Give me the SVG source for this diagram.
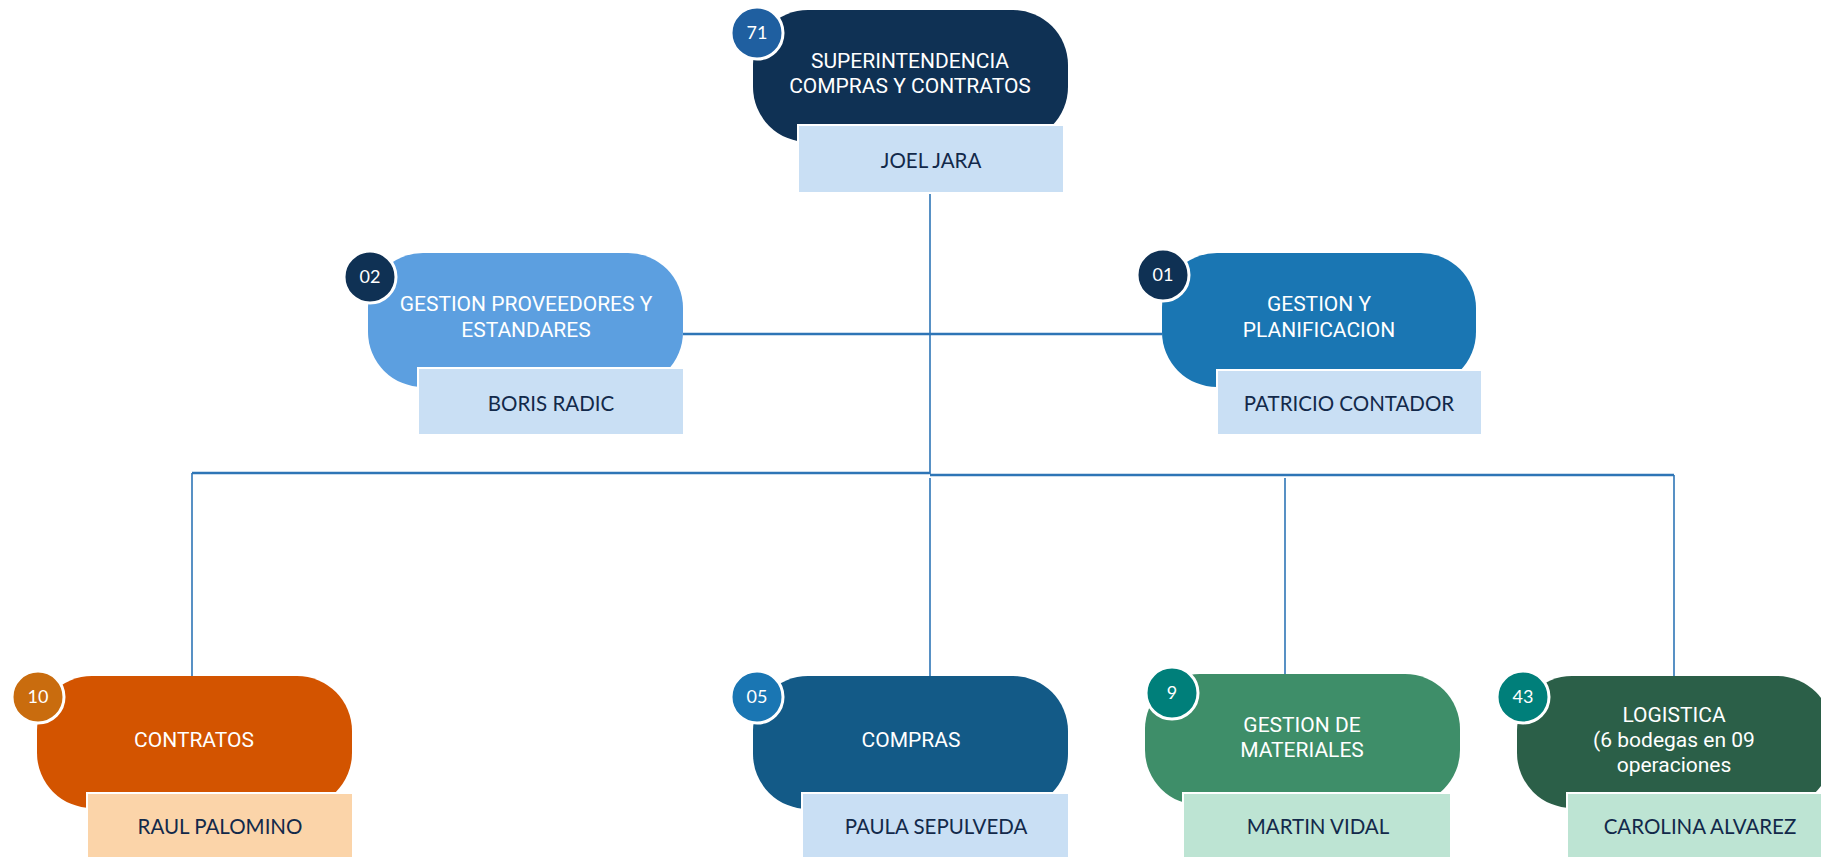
<svg xmlns="http://www.w3.org/2000/svg" width="1821" height="857" viewBox="0 0 1821 857">
<style>
.shape{stroke:none}
.name{stroke:#ffffff;stroke-width:2}
.badge{stroke:#ffffff;stroke-width:3}
.lbl{font-family:Roboto,"Liberation Sans",sans-serif;font-size:21px;fill:#ffffff;text-anchor:middle}
.nm{font-family:Lato,"Liberation Sans",sans-serif;font-size:20.5px;fill:#12294a;text-anchor:middle}
.num{font-family:Lato,"Liberation Sans",sans-serif;font-size:18px;fill:#ffffff;text-anchor:middle}
.bus{stroke:#2e75b6;stroke-width:2.5;fill:none}
.drop{stroke:#2e75b6;stroke-width:1.6;fill:none}
</style>
<rect width="1821" height="857" fill="#ffffff"/>
<g id="connectors">
<line class="drop" x1="930" y1="193" x2="930" y2="474"/>
<line class="bus" x1="683" y1="334" x2="1162" y2="334"/>
<line class="bus" x1="192" y1="473" x2="930" y2="473"/>
<line class="bus" x1="930" y1="475" x2="1674" y2="475"/>
<line class="drop" x1="192" y1="473" x2="192" y2="676"/>
<line class="drop" x1="930" y1="478" x2="930" y2="676"/>
<line class="drop" x1="1285" y1="478" x2="1285" y2="674"/>
<line class="drop" x1="1674" y1="475" x2="1674" y2="676"/>
</g>
<g id="node-superintendencia">
<rect class="shape" x="753" y="10" width="315" height="132" rx="55" fill="#0f3154"/>
<text class="lbl" x="910" y="68">SUPERINTENDENCIA</text>
<text class="lbl" x="910" y="93">COMPRAS Y CONTRATOS</text>
<rect class="name" x="798" y="125" width="266" height="68" fill="#c9dff4"/>
<text class="nm" x="931" y="168">JOEL JARA</text>
<circle class="badge" cx="757" cy="33" r="26" fill="#1f5fa0"/>
<text class="num" x="757" y="39">71</text>
</g>
<g id="node-proveedores">
<rect class="shape" x="368" y="253" width="315" height="134" rx="55" fill="#5c9fe0"/>
<text class="lbl" x="526" y="311">GESTION PROVEEDORES Y</text>
<text class="lbl" x="526" y="337">ESTANDARES</text>
<rect class="name" x="418" y="368" width="266" height="67" fill="#c9dff4"/>
<text class="nm" x="551" y="411">BORIS RADIC</text>
<circle class="badge" cx="370" cy="277" r="26" fill="#0f3154"/>
<text class="num" x="370" y="283">02</text>
</g>
<g id="node-planificacion">
<rect class="shape" x="1162" y="253" width="314" height="134" rx="55" fill="#1a76b3"/>
<text class="lbl" x="1319" y="311">GESTION Y</text>
<text class="lbl" x="1319" y="337">PLANIFICACION</text>
<rect class="name" x="1217" y="370" width="265" height="65" fill="#c9dff4"/>
<text class="nm" x="1349" y="411">PATRICIO CONTADOR</text>
<circle class="badge" cx="1163" cy="275" r="26" fill="#0f3154"/>
<text class="num" x="1163" y="281">01</text>
</g>
<g id="node-contratos">
<rect class="shape" x="37" y="676" width="315" height="132" rx="55" fill="#d35400"/>
<text class="lbl" x="194" y="747">CONTRATOS</text>
<rect class="name" x="87" y="793" width="266" height="70" fill="#fbd4a9"/>
<text class="nm" x="220" y="834">RAUL PALOMINO</text>
<circle class="badge" cx="38" cy="697" r="26" fill="#c96c0e"/>
<text class="num" x="38" y="703">10</text>
</g>
<g id="node-compras">
<rect class="shape" x="753" y="676" width="315" height="133" rx="55" fill="#135a87"/>
<text class="lbl" x="911" y="747">COMPRAS</text>
<rect class="name" x="802" y="793" width="267" height="70" fill="#c9dff4"/>
<text class="nm" x="936" y="834">PAULA SEPULVEDA</text>
<circle class="badge" cx="757" cy="697" r="26" fill="#1a76b3"/>
<text class="num" x="757" y="703">05</text>
</g>
<g id="node-materiales">
<rect class="shape" x="1145" y="674" width="315" height="131" rx="55" fill="#3e8e69"/>
<text class="lbl" x="1302" y="732">GESTION DE</text>
<text class="lbl" x="1302" y="757">MATERIALES</text>
<rect class="name" x="1183" y="793" width="268" height="70" fill="#bde4d3"/>
<text class="nm" x="1318" y="834">MARTIN VIDAL</text>
<circle class="badge" cx="1172" cy="693" r="26" fill="#007f7a"/>
<text class="num" x="1172" y="699">9</text>
</g>
<g id="node-logistica">
<rect class="shape" x="1517" y="676" width="315" height="132" rx="55" fill="#2b5f48"/>
<text class="lbl" x="1674" y="722">LOGISTICA</text>
<text class="lbl" x="1674" y="747">(6 bodegas en 09</text>
<text class="lbl" x="1674" y="772">operaciones</text>
<rect class="name" x="1567" y="793" width="266" height="70" fill="#bde4d3"/>
<text class="nm" x="1700" y="834">CAROLINA ALVAREZ</text>
<circle class="badge" cx="1523" cy="697" r="26" fill="#007f7a"/>
<text class="num" x="1523" y="703">43</text>
</g>
</svg>
